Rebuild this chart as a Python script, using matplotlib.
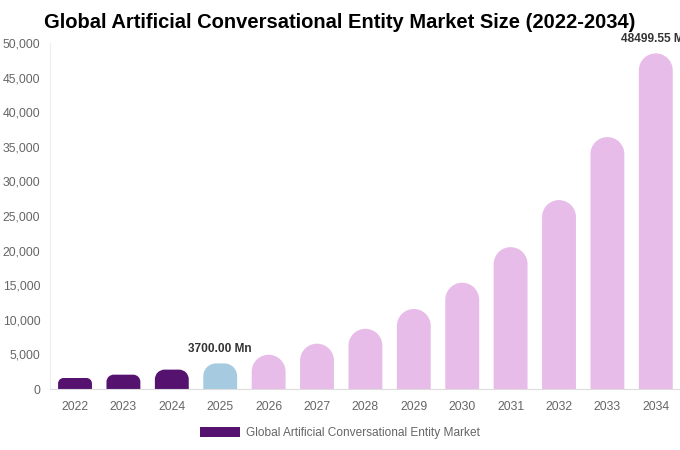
import matplotlib
matplotlib.use("Agg")
import matplotlib.pyplot as plt
from matplotlib.path import Path
from matplotlib.patches import PathPatch, Patch
import numpy as np

plt.rcParams['font.family'] = ['Liberation Sans', 'DejaVu Sans']

years = ["2022", "2023", "2024", "2025", "2026", "2027", "2028", "2029",
         "2030", "2031", "2032", "2033", "2034"]
values = [1590, 2070, 2800, 3700, 4950, 6550, 8700, 11560, 15360, 20500,
          27300, 36400, 48499.55]
labelled = {"2025": "3700.00 Mn", "2034": "48499.55 Mn"}
title = "Global Artificial Conversational Entity Market Size (2022-2034)"
legend_label = "Global Artificial Conversational Entity Market"

c_hist = "#55126f"
c_base = "#a6cbe0"
c_fore = "#e8bce9"

fig = plt.figure(figsize=(6.8, 4.5), dpi=100)
ax = fig.add_axes([50/680, 61/450, 630/680, 346/450])
ax.set_xlim(-0.517, 12.5)
ax.set_ylim(0, 50000)

x = np.arange(len(years))
width = 0.7

# pixel scale factors
ppx = (630) / (12.5 + 0.517)        # pixels per x unit
ppy = 346 / 50000.0                  # pixels per y unit

def rounded_bar(xc, h, w):
    x0, x1 = xc - w/2, xc + w/2
    w_px = w * ppx
    h_px = h * ppy
    r_px = min(w_px / 2, h_px / 2)
    rx = r_px / ppx
    ry = r_px / ppy
    verts = [(x0, 0), (x0, h - ry)]
    codes = [Path.MOVETO, Path.LINETO]
    a = Path.arc(90, 180)
    av = a.vertices[::-1]
    for v in av[1:]:
        verts.append((x0 + rx + v[0]*rx, h - ry + v[1]*ry))
    codes += [Path.CURVE4] * (len(av) - 1)
    verts.append((x1 - rx, h))
    codes.append(Path.LINETO)
    a2 = Path.arc(0, 90)
    av2 = a2.vertices[::-1]
    for v in av2[1:]:
        verts.append((x1 - rx + v[0]*rx, h - ry + v[1]*ry))
    codes += [Path.CURVE4] * (len(av2) - 1)
    verts.append((x1, 0))
    codes.append(Path.LINETO)
    verts.append((x0, 0))
    codes.append(Path.CLOSEPOLY)
    return Path(verts, codes)

for i, (yr, v) in enumerate(zip(years, values)):
    yi = int(yr)
    if yi < 2025:
        col = c_hist
    elif yi == 2025:
        col = c_base
    else:
        col = c_fore
    p = PathPatch(rounded_bar(x[i], v, width), facecolor=col, edgecolor='none')
    ax.add_patch(p)
    if yr in labelled:
        ax.annotate(labelled[yr], (x[i], v), xytext=(0, 6), textcoords='offset points',
                    ha='center', va='bottom', fontsize=8.6, fontweight='bold',
                    color='#333333', annotation_clip=False)

ax.set_xticks(x)
ax.set_xticklabels(years)
ax.set_yticks(np.arange(0, 50001, 5000))
ax.set_yticklabels([f"{t:,}" for t in range(0, 50001, 5000)])
ax.tick_params(axis='both', length=0, labelsize=8.8, colors='#666666')
ax.tick_params(axis='x', pad=9)
ax.tick_params(axis='y', pad=7)
for s in ['top', 'right']:
    ax.spines[s].set_visible(False)
ax.spines['left'].set_color('#eeeeee')
ax.spines['bottom'].set_color('#dddddd')

fig.text(340/680, 1 - 22/450, title, ha='center', va='center',
         fontsize=14.5, fontweight='bold', color='#000000')

handle = Patch(facecolor=c_hist, edgecolor='none')
leg = fig.legend([handle], [legend_label], loc='center', bbox_to_anchor=(340/680, 1 - 433/450),
                 frameon=False, fontsize=8.6, handlelength=3.3, handleheight=1.0,
                 handletextpad=0.5)
for t in leg.get_texts():
    t.set_color('#666666')

fig.savefig("out.png", dpi=100)
